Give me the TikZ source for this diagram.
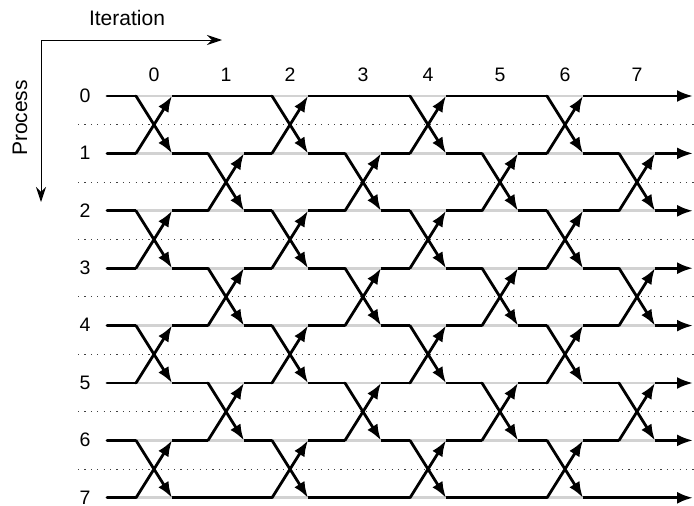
\documentclass[tikz,border=0pt]{standalone}
\usepackage{fontspec}
\setmainfont{Liberation Sans}
\usetikzlibrary{arrows.meta,calc}

\begin{document}
\begin{tikzpicture}[x=1pt,y=-1pt,
    every node/.style={font=\fontsize{19.5}{23}\selectfont,inner sep=0pt},
    title/.style={font=\fontsize{21}{24}\selectfont},
    flow/.style={line width=2.8pt,line cap=round,-{Latex[length=16pt,width=12pt]}},
    idle/.style={line width=2.8pt,gray!35},
    guide/.style={line width=1.1pt,black!75,dash pattern=on 1.1pt off 5.3pt},
    axis/.style={line width=1pt,-{Stealth[length=15pt,width=10pt]}}]
    \useasboundingbox (0,0) rectangle (694,506);
    % axes
    \coordinate (o) at (41,40);
    \coordinate (ox) at (222,40);
    \coordinate (oy) at (41,202);
    \draw[axis] (o) -- (ox);
    \draw[axis] (o) -- (oy);
    \node[title] (iter) at (127,18) {Iteration};
    \node[title,rotate=90] (proc) at (20,118) {Process};
    % dotted separators
    \foreach \i in {0,...,6}
      \draw[guide] (78,124.7+57.4*\i) -- (694,124.7+57.4*\i);
    % processes
    \foreach \i in {0,...,7} {
      \node (p\i) at (85,96+57.4*\i-0.5) {\i};
      \coordinate (s\i) at (107,96+57.4*\i);
      \coordinate (e\i) at (693,96+57.4*\i);
      \draw[flow] (s\i) -- (e\i);
    }
    % exchanges of each iteration
    \foreach \k/\c in {0/154,1/226,2/290,3/363,4/428,5/500,6/565,7/637} {
      \node (it\k) at (\c,75) {\k};
      \pgfmathtruncatemacro{\first}{mod(\k,2)}
      \pgfmathtruncatemacro{\second}{\first+2}
      \foreach \i in {\first,\second,...,6} {
        \pgfmathtruncatemacro{\j}{\i+1}
        \draw[idle] ($(it\k |- s\i)+(-18,0)$) -- ($(it\k |- s\i)+(18,0)$);
        \draw[idle] ($(it\k |- s\j)+(-18,0)$) -- ($(it\k |- s\j)+(18,0)$);
        \draw[flow] ($(it\k |- s\i)+(-18,0)$) -- ($(it\k |- s\j)+(18,0)$);
        \draw[flow] ($(it\k |- s\j)+(-18,0)$) -- ($(it\k |- s\i)+(18,0)$);
      }
    }
\end{tikzpicture}
\end{document}
